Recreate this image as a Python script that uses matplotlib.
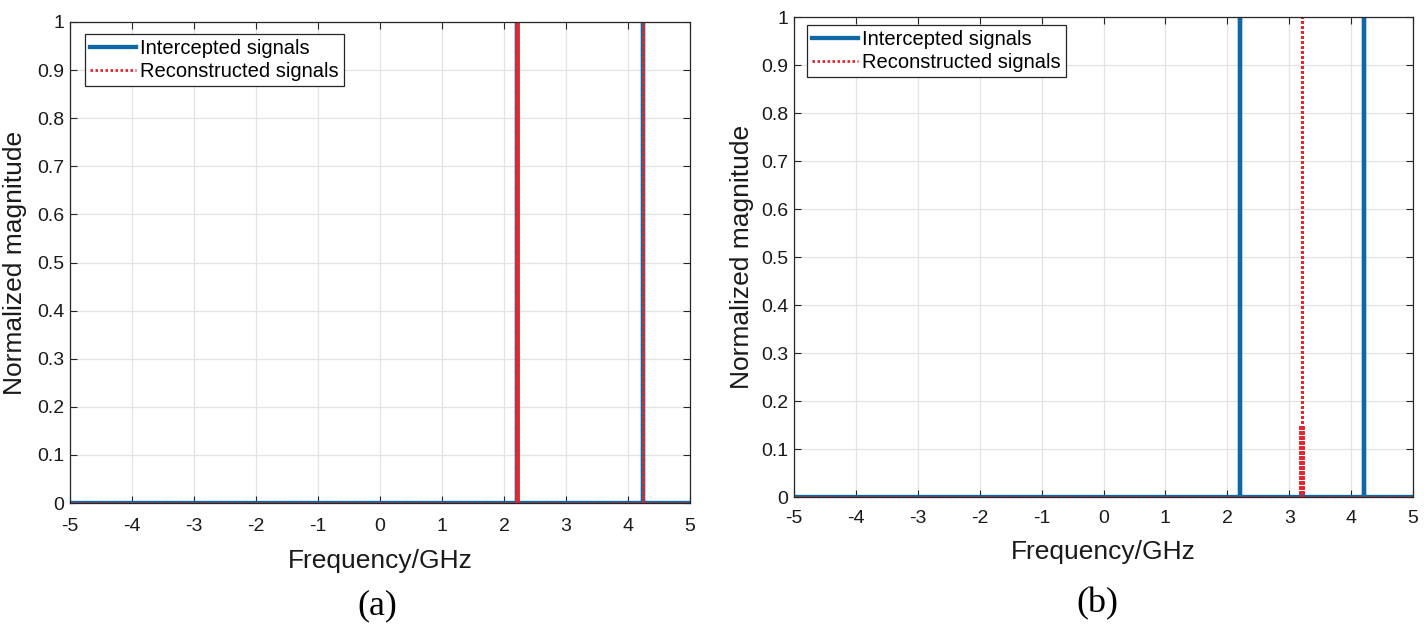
import matplotlib
matplotlib.use("Agg")
import matplotlib.pyplot as plt

# spike frequencies (GHz) and normalized amplitudes
freq_a_inter = [2.21, 4.24]
amp_a_inter = [1.0, 1.0]
freq_a_recon = [2.195, 2.205, 2.215, 2.225, 4.24]
amp_a_recon = [1.0, 1.0, 1.0, 1.0, 1.0]

freq_b_inter = [2.21, 4.21]
amp_b_inter = [1.0, 1.0]
freq_b_recon = [3.18, 3.19, 3.2, 3.21, 3.22]
amp_b_recon = [0.15, 0.15, 1.0, 0.15, 0.15]

xticks = [-5, -4, -3, -2, -1, 0, 1, 2, 3, 4, 5]
yticks = [0, 0.1, 0.2, 0.3, 0.4, 0.5, 0.6, 0.7, 0.8, 0.9, 1]
ytick_labels = ["0", "0.1", "0.2", "0.3", "0.4", "0.5", "0.6", "0.7", "0.8", "0.9", "1"]

BLUE = "#0f68a6"
RED = "#e0282e"
W, H = 1424, 625

plt.rcParams['font.family'] = ['Liberation Sans', 'DejaVu Sans']
plt.rcParams['axes.unicode_minus'] = False


def stems(freqs, amps):
    # spectrum as a line: flat at zero with vertical spikes
    xs, ys = [-5], [0]
    for f, a in sorted(zip(freqs, amps)):
        xs += [f, f, f]
        ys += [0, a, 0]
    xs.append(5)
    ys.append(0)
    return xs, ys


def panel(ax, fi, ai, fr, ar, tickpad, xpad, ypad, legpos):
    xi, yi = stems(fi, ai)
    xr, yr = stems(fr, ar)
    ax.plot(xi, yi, color=BLUE, lw=3.1, label="Intercepted signals")
    ax.plot(xr, yr, color=RED, lw=2.0, ls=(0, (0.9, 0.9)), label="Reconstructed signals")
    ax.set_xlim(-5, 5)
    ax.set_ylim(0, 1)
    ax.set_xticks(xticks)
    ax.set_yticks(yticks)
    ax.set_yticklabels(ytick_labels)
    ax.grid(True, color="#e3e3e3", lw=0.9)
    ax.set_axisbelow(True)
    for s in ax.spines.values():
        s.set_color("#262626")
        s.set_linewidth(0.9)
    ax.tick_params(direction="in", top=True, right=True, length=5, labelsize=14,
                   colors="#262626", labelcolor="#1a1a1a")
    ax.tick_params(axis="x", pad=tickpad)
    ax.tick_params(axis="y", pad=4)
    ax.set_xlabel("Frequency/GHz", fontsize=19, labelpad=xpad, color="#1a1a1a")
    ax.set_ylabel("Normalized magnitude", fontsize=19, labelpad=ypad, color="#1a1a1a")
    leg = ax.legend(loc="upper left", bbox_to_anchor=legpos, fontsize=14.5, fancybox=False,
                    framealpha=1, edgecolor="#262626", borderpad=0.25, handlelength=2.3,
                    handletextpad=0.2, borderaxespad=0, labelspacing=0.2)
    leg.get_frame().set_linewidth(0.9)


fig = plt.figure(figsize=(14.24, 6.25), dpi=100)
ax1 = fig.add_axes([70 / W, 1 - 503 / H, (690 - 70) / W, (503 - 22) / H])
ax2 = fig.add_axes([794 / W, 1 - 497 / H, (1413 - 794) / W, (497 - 17) / H])

panel(ax1, freq_a_inter, amp_a_inter, freq_a_recon, amp_a_recon, 10.5, 10.5, 7,
      (15 / 620, 1 - 12 / 481))
panel(ax2, freq_b_inter, amp_b_inter, freq_b_recon, amp_b_recon, 9.5, 9.5, 5,
      (13 / 619, 1 - 8 / 480))

fig.text(377 / W, 1 - 606 / H, "(a)", ha="center", va="center", fontsize=26,
         family="Liberation Serif")
fig.text(1097 / W, 1 - 604 / H, "(b)", ha="center", va="center", fontsize=26,
         family="Liberation Serif")

fig.savefig("out.png", dpi=100)
